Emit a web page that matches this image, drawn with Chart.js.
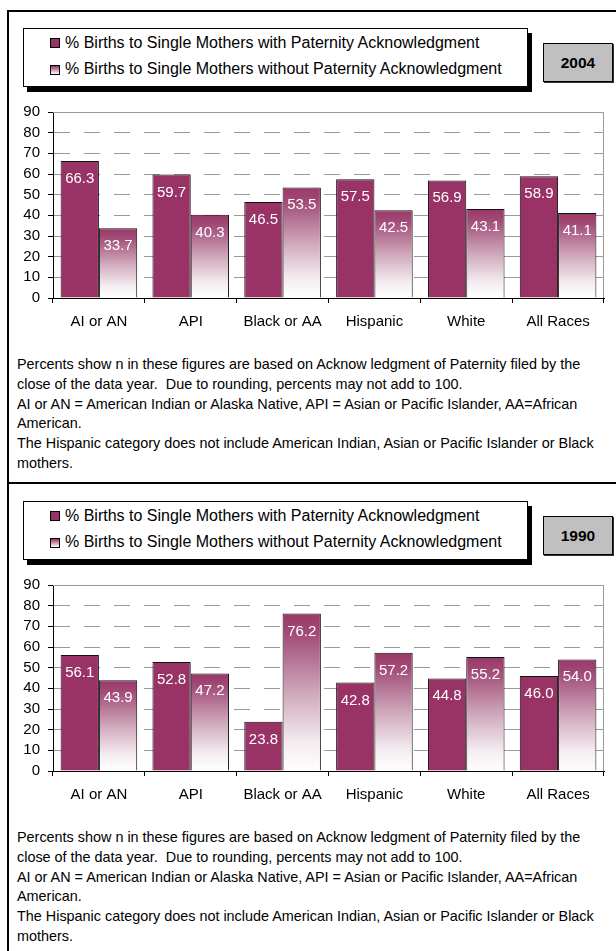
<!DOCTYPE html>
<html lang="en">
  <head>
    <meta charset="UTF-8">
    <title>Paternity Acknowledgment 2004 / 1990</title>
    <style>
      body { margin: 0; width: 616px; height: 951px; overflow: hidden; background: #fff;
             font-family: "Liberation Sans", Arial, sans-serif; color: #000; position: relative; }
      .line { position: absolute; background: #000; }
      .legend { position: absolute; left: 23px; width: 503px; height: 57px; border: 1px solid #000;
                background: #fff; box-shadow: 4px 5px 0 #000; }
      .sw { position: absolute; left: 26px; width: 8px; height: 8px; border: 1px solid #000; }
      .lt { position: absolute; left: 41px; font-size: 16px; line-height: 20px; white-space: nowrap; }
      .year { position: absolute; left: 543px; width: 68px; height: 37px; border: 1px solid #000;
              background: #c0c0c0; box-shadow: 1px 1px 0 #333; font-weight: bold; font-size: 15.5px;
              display: flex; align-items: center; justify-content: center; }
      .notes { position: absolute; left: 17px; font-size: 14.4px; line-height: 19.8px; white-space: pre; }
      canvas { position: absolute; left: 0; }
    </style>
  </head>
  <body>
    <div class="line" style="left:7px; top:10px; width:609px; height:2px"></div>
    <div class="line" style="left:7px; top:10px; width:2px; height:941px"></div>
    <div class="line" style="left:7px; top:482px; width:609px; height:2px"></div>
    <div id="panels"></div>

    <script src="https://cdn.jsdelivr.net/npm/chart.js"></script>
    <script>
      const categories = ["AI or AN", "API", "Black or AA", "Hispanic", "White", "All Races"];
      const seriesNames = [
        "% Births to Single Mothers with Paternity Acknowledgment",
        "% Births to Single Mothers without Paternity Acknowledgment"
      ];
      const years = ["2004", "1990"];
      const with2004 = [66.3, 59.7, 46.5, 57.5, 56.9, 58.9];
      const without2004 = [33.7, 40.3, 53.5, 42.5, 43.1, 41.1];
      const with1990 = [56.1, 52.8, 23.8, 42.8, 44.8, 46.0];
      const without1990 = [43.9, 47.2, 76.2, 57.2, 55.2, 54.0];
      const yMax = 90;
      const yStep = 10;
      const notes = [
        "Percents show n in these figures are based on Acknow ledgment of Paternity filed by the",
        "close of the data year.  Due to rounding, percents may not add to 100.",
        "AI or AN = American Indian or Alaska Native, API = Asian or Pacific Islander, AA=African",
        "American.",
        "The Hispanic category does not include American Indian, Asian or Pacific Islander or Black",
        "mothers."
      ];

      const PLUM = "#993366";
      const panelData = [
        { year: years[0], a: with2004, b: without2004, top: 0 },
        { year: years[1], a: with1990, b: without1990, top: 473 }
      ];

      function fade(ctx, top, bottom) {
        const g = ctx.createLinearGradient(0, top, 0, bottom);
        g.addColorStop(0, "#9a3868");
        g.addColorStop(0.12, "#a04a75");
        g.addColorStop(0.5, "#cfa7ba");
        g.addColorStop(0.82, "#f4ecf0");
        g.addColorStop(1, "#ffffff");
        return g;
      }

      // gray border on top and right of the plot area
      const plotFrame = {
        id: "plotFrame",
        beforeDatasetsDraw(chart) {
          const { ctx, chartArea: a } = chart;
          ctx.save();
          ctx.strokeStyle = "#9a9a9a";
          ctx.lineWidth = 1;
          ctx.beginPath();
          ctx.moveTo(a.left, a.top + 0.5);
          ctx.lineTo(a.right - 0.5, a.top + 0.5);
          ctx.lineTo(a.right - 0.5, a.bottom);
          ctx.stroke();
          ctx.restore();
        }
      };

      // white values inside the top of each bar
      const barValues = {
        id: "barValues",
        afterDatasetsDraw(chart) {
          const ctx = chart.ctx;
          ctx.save();
          ctx.fillStyle = "#fff";
          ctx.font = "15px 'Liberation Sans', Arial";
          ctx.textAlign = "center";
          ctx.textBaseline = "alphabetic";
          chart.data.datasets.forEach((ds, i) => {
            chart.getDatasetMeta(i).data.forEach((bar, j) => {
              ctx.fillText(ds.data[j].toFixed(1), bar.x, bar.y + 22);
            });
          });
          ctx.restore();
        }
      };

      const host = document.getElementById("panels");
      panelData.forEach((p, k) => {
        const t = p.top;
        host.insertAdjacentHTML("beforeend",
          '<div class="legend" style="top:' + (28 + t) + 'px">' +
            '<div class="sw" style="top:9px; background:' + PLUM + '"></div>' +
            '<div class="lt" style="top:4px">' + seriesNames[0] + '</div>' +
            '<div class="sw" style="top:36px; background:linear-gradient(' + PLUM + ', #fff)"></div>' +
            '<div class="lt" style="top:30px">' + seriesNames[1] + '</div>' +
          '</div>' +
          '<div class="year" style="top:' + (43 + t) + 'px">' + p.year + '</div>' +
          '<canvas id="c' + k + '" width="616" height="245" style="top:' + (95 + t) + 'px"></canvas>' +
          '<div class="notes" style="top:' + (355 + t) + 'px">' + notes.join("\n") + '</div>');

        new Chart(document.getElementById("c" + k), {
          type: "bar",
          data: {
            labels: categories,
            datasets: [
              { label: seriesNames[0], data: p.a, backgroundColor: PLUM },
              {
                label: seriesNames[1], data: p.b,
                backgroundColor: function (c) {
                  const ch = c.chart;
                  if (!ch.chartArea || c.type !== "data") return "#d9b8c8";
                  const y = ch.scales.y;
                  return fade(ch.ctx, y.getPixelForValue(c.raw), y.getPixelForValue(0));
                }
              }
            ]
          },
          options: {
            responsive: false,
            animation: false,
            devicePixelRatio: 1,
            layout: { padding: { left: 0, top: 13, right: 12, bottom: 0 } },
            datasets: {
              bar: { borderColor: "#111", borderWidth: 1, categoryPercentage: 0.834, barPercentage: 1 }
            },
            plugins: { legend: { display: false }, tooltip: { enabled: false } },
            scales: {
              x: {
                grid: { drawOnChartArea: false, drawTicks: true, tickLength: 5, tickColor: "#000", offset: true },
                border: { color: "#000", width: 1 },
                ticks: { color: "#000", font: { size: 15, family: "'Liberation Sans', Arial" }, padding: 10, maxRotation: 0, autoSkip: false },
                afterFit: s => { s.height = 42; }
              },
              y: {
                min: 0, max: yMax,
                grid: { color: "#9a9a9a", tickColor: "#000", tickLength: 5 },
                border: { color: "#000", width: 1, dash: [16, 14] },
                ticks: { stepSize: yStep, autoSkip: false, color: "#000", font: { size: 15, family: "'Liberation Sans', Arial" }, padding: 8 },
                afterFit: s => { s.width = 53; }
              }
            }
          },
          plugins: [plotFrame, barValues]
        });
      });
    </script>
  </body>
</html>
